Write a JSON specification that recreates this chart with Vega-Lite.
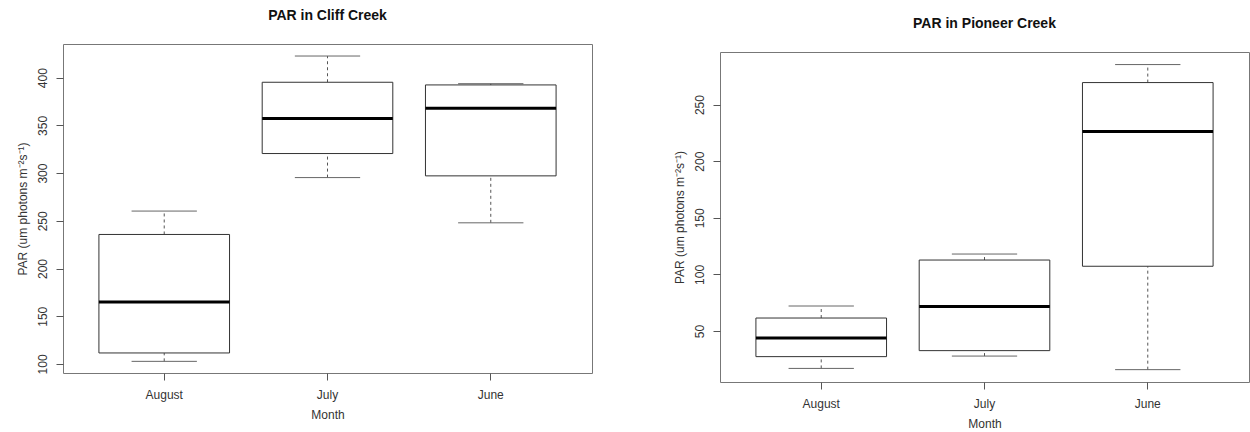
{
  "$schema": "https://vega.github.io/schema/vega-lite/v6.json",
  "background": "white",
  "padding": {"left": 15, "top": 8, "right": 0, "bottom": 0},
  "datasets": {
    "cliff": [
      {"month": "August", "lower": 102.7, "q1": 111.5, "median": 164.9, "q3": 235.7, "upper": 260.2},
      {"month": "July", "lower": 295.3, "q1": 320.5, "median": 357.1, "q3": 395.2, "upper": 422.7},
      {"month": "June", "lower": 247.9, "q1": 297.1, "median": 368.0, "q3": 392.4, "upper": 393.7}
    ],
    "pioneer": [
      {"month": "August", "lower": 17.0, "q1": 27.4, "median": 43.8, "q3": 61.5, "upper": 72.1},
      {"month": "July", "lower": 27.9, "q1": 32.7, "median": 71.6, "q3": 112.7, "upper": 118.0},
      {"month": "June", "lower": 15.9, "q1": 107.2, "median": 226.1, "q3": 269.4, "upper": 285.3}
    ]
  },
  "config": {
    "font": "Liberation Sans",
    "view": {"stroke": "#777", "strokeWidth": 1},
    "axis": {
      "domain": false, "grid": false,
      "tickColor": "#555", "tickSize": 7,
      "labelFont": "Liberation Sans", "labelFontSize": 12, "labelColor": "#333",
      "titleFont": "Liberation Sans", "titleFontSize": 12, "titleFontWeight": "normal", "titleColor": "#333"
    },
    "axisX": {"labelAngle": 0, "labelPadding": 9, "titlePadding": 9},
    "axisY": {"labelAngle": 270, "labelAlign": "center", "labelBaseline": "middle", "labelPadding": 14, "titlePadding": 7},
    "title": {"font": "Liberation Sans", "fontSize": 14, "fontWeight": "bold", "color": "#111", "frame": "group", "anchor": "middle", "baseline": "alphabetic", "offset": 21}
  },
  "spacing": 128,
  "bounds": "flush",
  "hconcat": [
    {
      "title": "PAR in Cliff Creek",
      "width": 529,
      "height": 329,
      "data": {"name": "cliff"},
      "encoding": {
        "x": {"field": "month", "type": "nominal", "sort": ["August", "July", "June"],
              "scale": {"type": "band", "paddingInner": 0.2, "paddingOuter": 0.22},
              "axis": {"title": "Month"}}
      },
      "layer": [
        {
          "mark": {"type": "rule", "color": "#555", "strokeDash": [3, 3]},
          "encoding": {
            "y": {"field": "q3", "type": "quantitative",
                  "scale": {"domain": [90.5, 435.3], "nice": false, "zero": false},
                  "axis": {"title": "PAR (um photons m⁻²s⁻¹)", "values": [100, 150, 200, 250, 300, 350, 400]}},
            "y2": {"field": "upper"}
          }
        },
        {
          "mark": {"type": "rule", "color": "#555", "strokeDash": [3, 3]},
          "encoding": {"y": {"field": "lower", "type": "quantitative"}, "y2": {"field": "q1"}}
        },
        {
          "mark": {"type": "rule", "color": "#666"},
          "encoding": {
            "x": {"field": "month", "type": "nominal", "sort": ["August", "July", "June"], "bandPosition": 0.25},
            "x2": {"field": "month", "bandPosition": 0.75},
            "y": {"field": "upper", "type": "quantitative"}
          }
        },
        {
          "mark": {"type": "rule", "color": "#666"},
          "encoding": {
            "x": {"field": "month", "type": "nominal", "sort": ["August", "July", "June"], "bandPosition": 0.25},
            "x2": {"field": "month", "bandPosition": 0.75},
            "y": {"field": "lower", "type": "quantitative"}
          }
        },
        {
          "mark": {"type": "bar", "fill": "white", "stroke": "#333", "strokeWidth": 1},
          "encoding": {"y": {"field": "q1", "type": "quantitative"}, "y2": {"field": "q3"}}
        },
        {
          "mark": {"type": "rule", "color": "#000", "strokeWidth": 3},
          "encoding": {
            "x": {"field": "month", "type": "nominal", "sort": ["August", "July", "June"], "bandPosition": 0},
            "x2": {"field": "month", "bandPosition": 1},
            "y": {"field": "median", "type": "quantitative"}
          }
        }
      ]
    },
    {
      "bounds": "flush",
      "spacing": 7,
      "vconcat": [
        {
          "width": 529,
          "height": 1,
          "view": {"stroke": null},
          "data": {"values": []},
          "mark": {"type": "point", "opacity": 0}
        },
        {
          "title": "PAR in Pioneer Creek",
          "width": 529,
          "height": 330,
          "data": {"name": "pioneer"},
          "encoding": {
            "x": {"field": "month", "type": "nominal", "sort": ["August", "July", "June"],
                  "scale": {"type": "band", "paddingInner": 0.2, "paddingOuter": 0.22},
                  "axis": {"title": "Month"}}
          },
          "layer": [
            {
              "mark": {"type": "rule", "color": "#555", "strokeDash": [3, 3]},
              "encoding": {
                "y": {"field": "q3", "type": "quantitative",
                      "scale": {"domain": [5.0, 296.4], "nice": false, "zero": false},
                      "axis": {"title": "PAR (um photons m⁻²s⁻¹)", "values": [50, 100, 150, 200, 250]}},
                "y2": {"field": "upper"}
              }
            },
            {
              "mark": {"type": "rule", "color": "#555", "strokeDash": [3, 3]},
              "encoding": {"y": {"field": "lower", "type": "quantitative"}, "y2": {"field": "q1"}}
            },
            {
              "mark": {"type": "rule", "color": "#666"},
              "encoding": {
                "x": {"field": "month", "type": "nominal", "sort": ["August", "July", "June"], "bandPosition": 0.25},
                "x2": {"field": "month", "bandPosition": 0.75},
                "y": {"field": "upper", "type": "quantitative"}
              }
            },
            {
              "mark": {"type": "rule", "color": "#666"},
              "encoding": {
                "x": {"field": "month", "type": "nominal", "sort": ["August", "July", "June"], "bandPosition": 0.25},
                "x2": {"field": "month", "bandPosition": 0.75},
                "y": {"field": "lower", "type": "quantitative"}
              }
            },
            {
              "mark": {"type": "bar", "fill": "white", "stroke": "#333", "strokeWidth": 1},
              "encoding": {"y": {"field": "q1", "type": "quantitative"}, "y2": {"field": "q3"}}
            },
            {
              "mark": {"type": "rule", "color": "#000", "strokeWidth": 3},
              "encoding": {
                "x": {"field": "month", "type": "nominal", "sort": ["August", "July", "June"], "bandPosition": 0},
                "x2": {"field": "month", "bandPosition": 1},
                "y": {"field": "median", "type": "quantitative"}
              }
            }
          ]
        }
      ]
    }
  ]
}
